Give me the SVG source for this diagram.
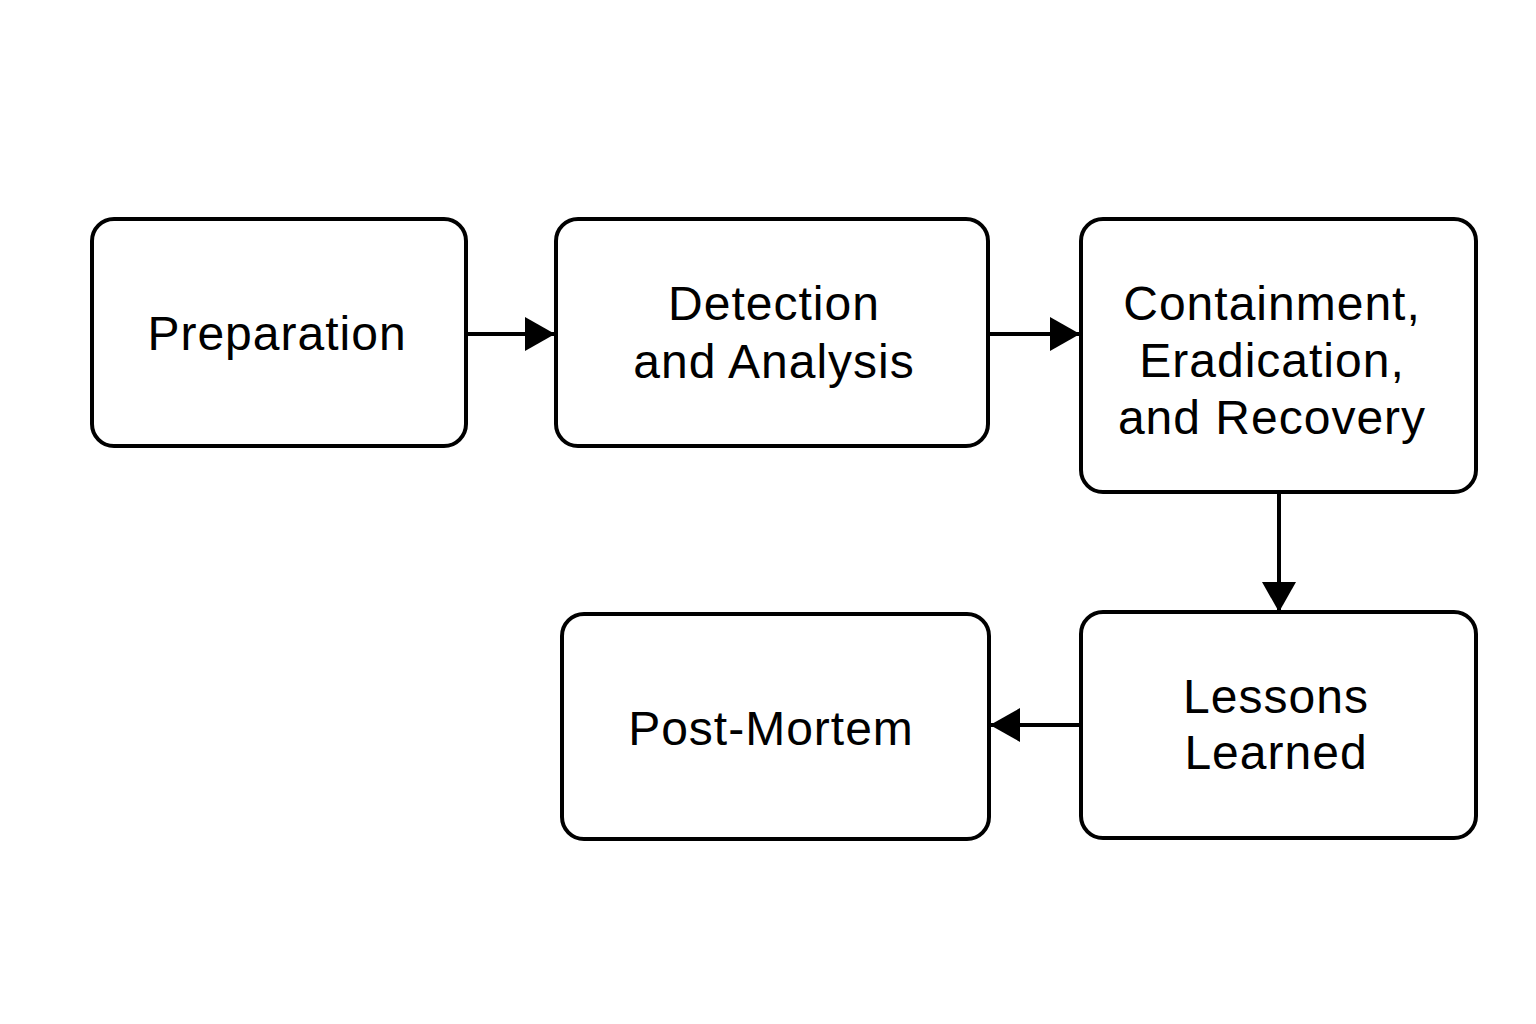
<svg xmlns="http://www.w3.org/2000/svg" width="1536" height="1024" viewBox="0 0 1536 1024">
<style>
.box{fill:#fff;stroke:#000;stroke-width:4}
.t{font-family:"Liberation Sans",Arial,sans-serif;font-size:48px;fill:#000;text-anchor:middle;letter-spacing:1px}
.c{stroke:#000;stroke-width:4;fill:none}
</style>
<defs>
<marker id="ah" viewBox="0 0 30 34" refX="30" refY="17" markerWidth="30" markerHeight="34" markerUnits="userSpaceOnUse" orient="auto">
<path d="M0,0 L30,17 L0,34 Z" fill="#000"/>
</marker>
</defs>
<rect width="1536" height="1024" fill="#fff"/>
<g id="connectors">
<path class="c" d="M466,334 L555,334" marker-end="url(#ah)"/>
<path class="c" d="M988,334 L1080,334" marker-end="url(#ah)"/>
<path class="c" d="M1279,492 L1279,612" marker-end="url(#ah)"/>
<path class="c" d="M1081,725 L990,725" marker-end="url(#ah)"/>
</g>
<g id="preparation">
<rect class="box" x="92" y="219" width="374" height="227" rx="22"/>
<text class="t" x="277" y="350">Preparation</text>
</g>
<g id="detection">
<rect class="box" x="556" y="219" width="432" height="227" rx="22"/>
<text class="t" x="774" y="320">Detection</text>
<text class="t" x="774" y="378">and Analysis</text>
</g>
<g id="containment">
<rect class="box" x="1081" y="219" width="395" height="273" rx="22"/>
<text class="t" x="1272" y="320">Containment,</text>
<text class="t" x="1272" y="377">Eradication,</text>
<text class="t" x="1272" y="434">and Recovery</text>
</g>
<g id="lessons">
<rect class="box" x="1081" y="612" width="395" height="226" rx="22"/>
<text class="t" x="1276" y="713">Lessons</text>
<text class="t" x="1276" y="769">Learned</text>
</g>
<g id="postmortem">
<rect class="box" x="562" y="614" width="427" height="225" rx="22"/>
<text class="t" x="771" y="745">Post-Mortem</text>
</g>
</svg>
